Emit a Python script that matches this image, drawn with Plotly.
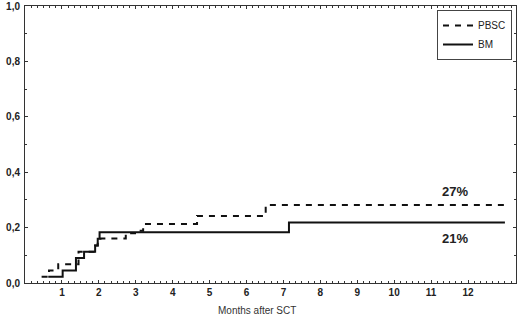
import plotly.graph_objects as go

# Data (cumulative incidence vs months after SCT)
bm_months = [0.63, 1.02, 1.38, 1.60, 1.90, 1.97, 2.02, 7.15, 13.0]
bm_cum = [0.023, 0.045, 0.090, 0.113, 0.135, 0.160, 0.183, 0.218, 0.218]

pbsc_months = [0.45, 0.65, 0.90, 1.45, 1.90, 1.97, 2.05, 2.73, 2.98, 3.20, 4.66, 6.52, 13.0]
pbsc_cum = [0.023, 0.045, 0.068, 0.113, 0.135, 0.150, 0.161, 0.180, 0.189, 0.213, 0.242, 0.282, 0.282]

x_ticks = list(range(1, 13))
y_ticks = [0.0, 0.2, 0.4, 0.6, 0.8, 1.0]
y_tick_labels = ["0,0", "0,2", "0,4", "0,6", "0,8", "1,0"]

end_labels = ["27%", "21%"]
end_label_x = [11.64, 11.64]
end_label_y = [0.332, 0.159]

fig = go.Figure()
fig.add_trace(go.Scatter(x=pbsc_months, y=pbsc_cum, mode="lines", name="PBSC",
                         line=dict(shape="hv", color="#111111", width=2, dash="6px,6px")))
fig.add_trace(go.Scatter(x=bm_months, y=bm_cum, mode="lines", name="BM",
                         line=dict(shape="hv", color="#111111", width=2)))

for t, x, y in zip(end_labels, end_label_x, end_label_y):
    fig.add_annotation(x=x, y=y, text=t, showarrow=False,
                       font=dict(family="Liberation Sans", size=13, color="#222222", weight="bold"),
                       xanchor="center", yanchor="middle")

fig.add_annotation(x=(257 - 25) / 491, y=-(310 - 283) / 277, xref="paper", yref="paper",
                   text="Months after SCT", showarrow=False, yanchor="middle",
                   font=dict(family="Liberation Sans", size=10, color="#333333"))

axis_common = dict(showline=True, linecolor="#333333", linewidth=1, mirror="ticks",
                   ticks="inside", ticklen=3, tickcolor="#333333", showgrid=False,
                   zeroline=False, automargin=False,
                   tickfont=dict(family="Liberation Sans", size=10, color="#222222", weight="bold"))

fig.update_xaxes(range=[0, 13.3], tickvals=x_ticks, ticktext=[str(v) for v in x_ticks],
                 minor=dict(dtick=1/6, tick0=0, ticks="inside", ticklen=2, tickcolor="#333333"),
                 **axis_common)
fig.update_yaxes(range=[0, 1], tickvals=y_ticks, ticktext=y_tick_labels,
                 ticklabelstandoff=2,
                 minor=dict(dtick=0.1, tick0=0, ticks="inside", ticklen=2, tickcolor="#333333"),
                 **axis_common)

fig.update_layout(
    width=520, height=318,
    margin=dict(l=25, r=4, t=6, b=35, autoexpand=False),
    plot_bgcolor="white", paper_bgcolor="white",
    showlegend=True,
    legend=dict(x=(437 - 25) / 491, y=(283 - 10) / 277, xanchor="left", yanchor="top",
                bordercolor="#444444", borderwidth=1, bgcolor="white",
                itemwidth=30, tracegroupgap=2,
                font=dict(family="Liberation Sans", size=10, color="#222222")),
    font=dict(family="Liberation Sans"),
)

fig.write_html("out.html", config={"displayModeBar": False},
               post_script="document.body.style.margin='0';document.body.style.overflow='hidden';")
